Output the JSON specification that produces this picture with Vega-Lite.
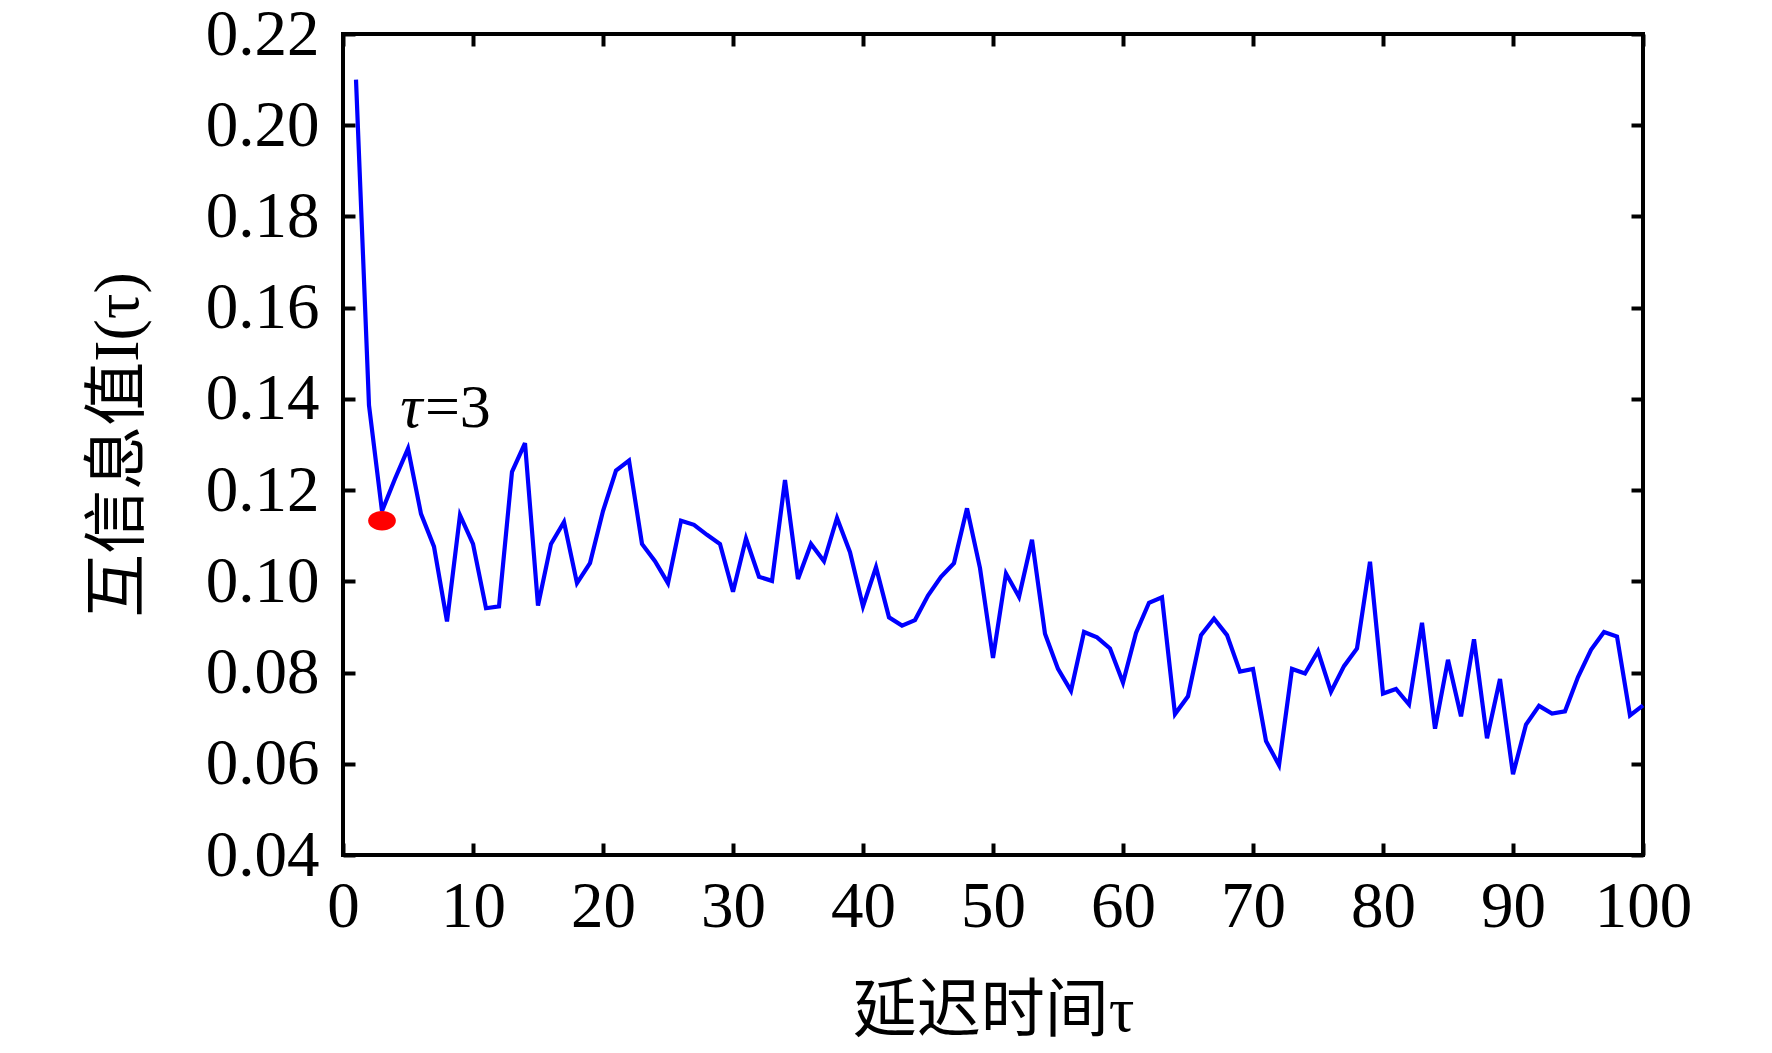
{
  "$schema": "https://vega.github.io/schema/vega-lite/v6.json",
  "width": 1300,
  "height": 821,
  "autosize": {"type": "none"},
  "padding": {"left": 343, "top": 34, "right": 129, "bottom": 198},
  "background": "white",
  "config": {
    "view": {"stroke": "black", "strokeWidth": 4},
    "font": "Liberation Serif",
    "axis": {
      "domain": false,
      "grid": false,
      "tickSize": -12,
      "tickWidth": 4,
      "tickColor": "black",
      "labelFont": "Liberation Serif",
      "labelFontSize": 65,
      "labelColor": "black",
      "labelFlush": false,
      "labelOverlap": false,
      "titleFont": "Liberation Serif, Noto Sans CJK SC",
      "titleFontSize": 64,
      "titleFontWeight": "normal",
      "titleColor": "black"
    }
  },
  "datasets": {
    "mi": [
      {"tau": 1, "value": 0.210}, {"tau": 2, "value": 0.1386}, {"tau": 3, "value": 0.1154}, {"tau": 4, "value": 0.1225}, {"tau": 5, "value": 0.1291},
      {"tau": 6, "value": 0.1148}, {"tau": 7, "value": 0.1076}, {"tau": 8, "value": 0.0912}, {"tau": 9, "value": 0.1145}, {"tau": 10, "value": 0.1082},
      {"tau": 11, "value": 0.0941}, {"tau": 12, "value": 0.0945}, {"tau": 13, "value": 0.1240}, {"tau": 14, "value": 0.1303}, {"tau": 15, "value": 0.0947},
      {"tau": 16, "value": 0.1082}, {"tau": 17, "value": 0.1130}, {"tau": 18, "value": 0.0996}, {"tau": 19, "value": 0.1040}, {"tau": 20, "value": 0.1154},
      {"tau": 21, "value": 0.1243}, {"tau": 22, "value": 0.1265}, {"tau": 23, "value": 0.1082}, {"tau": 24, "value": 0.1044}, {"tau": 25, "value": 0.0996},
      {"tau": 26, "value": 0.1133}, {"tau": 27, "value": 0.1124}, {"tau": 28, "value": 0.1102}, {"tau": 29, "value": 0.1082}, {"tau": 30, "value": 0.0977},
      {"tau": 31, "value": 0.1094}, {"tau": 32, "value": 0.1010}, {"tau": 33, "value": 0.1001}, {"tau": 34, "value": 0.1222}, {"tau": 35, "value": 0.1005},
      {"tau": 36, "value": 0.1082}, {"tau": 37, "value": 0.1044}, {"tau": 38, "value": 0.1139}, {"tau": 39, "value": 0.1064}, {"tau": 40, "value": 0.0945},
      {"tau": 41, "value": 0.1031}, {"tau": 42, "value": 0.0921}, {"tau": 43, "value": 0.0903}, {"tau": 44, "value": 0.0915}, {"tau": 45, "value": 0.0969},
      {"tau": 46, "value": 0.1010}, {"tau": 47, "value": 0.1040}, {"tau": 48, "value": 0.1160}, {"tau": 49, "value": 0.1029}, {"tau": 50, "value": 0.0832},
      {"tau": 51, "value": 0.1017}, {"tau": 52, "value": 0.0966}, {"tau": 53, "value": 0.1091}, {"tau": 54, "value": 0.0885}, {"tau": 55, "value": 0.0808},
      {"tau": 56, "value": 0.0760}, {"tau": 57, "value": 0.0889}, {"tau": 58, "value": 0.0877}, {"tau": 59, "value": 0.0853}, {"tau": 60, "value": 0.0778},
      {"tau": 61, "value": 0.0887}, {"tau": 62, "value": 0.0953}, {"tau": 63, "value": 0.0965}, {"tau": 64, "value": 0.0709}, {"tau": 65, "value": 0.0748},
      {"tau": 66, "value": 0.0882}, {"tau": 67, "value": 0.0918}, {"tau": 68, "value": 0.0882}, {"tau": 69, "value": 0.0802}, {"tau": 70, "value": 0.0808},
      {"tau": 71, "value": 0.0650}, {"tau": 72, "value": 0.0597}, {"tau": 73, "value": 0.0808}, {"tau": 74, "value": 0.0798}, {"tau": 75, "value": 0.0847},
      {"tau": 76, "value": 0.0758}, {"tau": 77, "value": 0.0814}, {"tau": 78, "value": 0.0853}, {"tau": 79, "value": 0.1043}, {"tau": 80, "value": 0.0754},
      {"tau": 81, "value": 0.0764}, {"tau": 82, "value": 0.0730}, {"tau": 83, "value": 0.0909}, {"tau": 84, "value": 0.0677}, {"tau": 85, "value": 0.0828},
      {"tau": 86, "value": 0.0704}, {"tau": 87, "value": 0.0873}, {"tau": 88, "value": 0.0656}, {"tau": 89, "value": 0.0786}, {"tau": 90, "value": 0.0577},
      {"tau": 91, "value": 0.0686}, {"tau": 92, "value": 0.0727}, {"tau": 93, "value": 0.0710}, {"tau": 94, "value": 0.0715}, {"tau": 95, "value": 0.0790},
      {"tau": 96, "value": 0.0850}, {"tau": 97, "value": 0.0889}, {"tau": 98, "value": 0.0879}, {"tau": 99, "value": 0.0706}, {"tau": 100, "value": 0.0728}
    ],
    "opt": [{"tau": 3, "value": 0.1133}],
    "notes": [
      {"tau": 4.4, "value": 0.1339, "label": "τ", "part": "symbol"},
      {"tau": 6.3, "value": 0.1339, "label": "=3", "part": "number"}
    ]
  },
  "layer": [
    {
      "data": {"name": "mi"},
      "mark": {"type": "line", "color": "#0000ff", "strokeWidth": 4.2},
      "encoding": {
        "x": {"field": "tau", "type": "quantitative", "scale": {"domain": [0, 100], "nice": false, "zero": false},
          "axis": {"orient": "bottom", "values": [0, 10, 20, 30, 40, 50, 60, 70, 80, 90, 100], "labelPadding": 32, "title": "延迟时间τ", "titlePadding": 40}},
        "y": {"field": "value", "type": "quantitative", "scale": {"domain": [0.04, 0.22], "nice": false, "zero": false},
          "axis": {"orient": "left", "values": [0.04, 0.06, 0.08, 0.10, 0.12, 0.14, 0.16, 0.18, 0.20, 0.22], "format": ".2f", "labelPadding": 36, "title": "互信息值I(τ)", "titlePadding": 55}}
      }
    },
    {
      "data": {"name": "mi"},
      "mark": {"type": "line", "opacity": 0},
      "encoding": {
        "x": {"field": "tau", "type": "quantitative", "scale": {"domain": [0, 100], "nice": false, "zero": false},
          "axis": {"orient": "top", "values": [0, 10, 20, 30, 40, 50, 60, 70, 80, 90, 100], "labels": false, "title": null}},
        "y": {"field": "value", "type": "quantitative", "scale": {"domain": [0.04, 0.22], "nice": false, "zero": false},
          "axis": {"orient": "right", "values": [0.04, 0.06, 0.08, 0.10, 0.12, 0.14, 0.16, 0.18, 0.20, 0.22], "labels": false, "title": null}}
      }
    },
    {
      "data": {"name": "opt"},
      "mark": {"type": "point", "shape": "M-1,0A1,0.7,0,1,0,1,0A1,0.7,0,1,0,-1,0Z", "filled": true, "color": "#ff0000", "opacity": 1, "size": 770},
      "encoding": {
        "x": {"field": "tau", "type": "quantitative", "axis": null},
        "y": {"field": "value", "type": "quantitative", "axis": null}
      }
    },
    {
      "data": {"name": "notes"},
      "transform": [{"filter": "datum.part === 'symbol'"}],
      "mark": {"type": "text", "align": "left", "baseline": "alphabetic", "font": "Liberation Serif", "fontSize": 62, "fontStyle": "italic", "color": "black"},
      "encoding": {
        "x": {"field": "tau", "type": "quantitative", "axis": null},
        "y": {"field": "value", "type": "quantitative", "axis": null},
        "text": {"field": "label"}
      }
    },
    {
      "data": {"name": "notes"},
      "transform": [{"filter": "datum.part === 'number'"}],
      "mark": {"type": "text", "align": "left", "baseline": "alphabetic", "font": "Liberation Serif", "fontSize": 62, "color": "black"},
      "encoding": {
        "x": {"field": "tau", "type": "quantitative", "axis": null},
        "y": {"field": "value", "type": "quantitative", "axis": null},
        "text": {"field": "label"}
      }
    }
  ],
  "resolve": {"axis": {"x": "independent", "y": "independent"}}
}
